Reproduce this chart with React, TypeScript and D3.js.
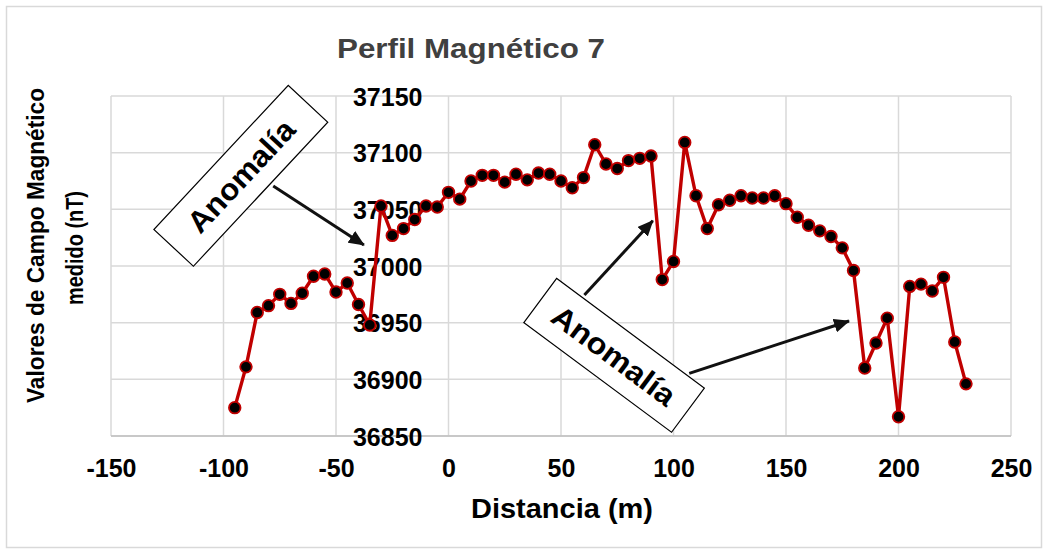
import React, { useEffect, useRef } from "react";
import * as d3 from "d3";

const distances = [
  -95, -90, -85, -80, -75, -70, -65, -60, -55, -50, -45, -40, -35, -30, -25, -20, -15, -10, -5,
  0, 5, 10, 15, 20, 25, 30, 35, 40, 45, 50, 55, 60, 65, 70, 75, 80, 85, 90, 95, 100, 105, 110,
  115, 120, 125, 130, 135, 140, 145, 150, 155, 160, 165, 170, 175, 180, 185, 190, 195, 200, 205,
  210, 215, 220, 225, 230,
];

const fieldValues = [
  36875, 36911, 36959, 36965, 36975, 36967, 36976, 36991, 36993, 36977, 36985, 36966, 36948, 37053,
  37027, 37033, 37041, 37053, 37052, 37065, 37059, 37075, 37080, 37080, 37074, 37081, 37076, 37082,
  37081, 37075, 37069, 37078, 37107, 37090, 37086, 37093, 37095, 37097, 36988, 37004, 37109, 37062,
  37033, 37054, 37058, 37062, 37060, 37060, 37062, 37055, 37043, 37036, 37031, 37026, 37016, 36996,
  36910, 36932, 36954, 36867, 36982, 36984, 36978, 36990, 36933, 36896,
];

const xTicks = [-150, -100, -50, 0, 50, 100, 150, 200, 250];
const yTicks = [36850, 36900, 36950, 37000, 37050, 37100, 37150];

// annotation boxes and arrows, in data coordinates
const labelBoxes = [
  { x: -92.3, y: 37079.6, angle: -47, w: 197, h: 54, len: 142 },
  { x: 73.6, y: 36921.2, angle: 36.6, w: 184, h: 55, len: 146 },
];
const arrows = [
  { x1: -77.9, y1: 37070.6, x2: -37.6, y2: 37018.5 },
  { x1: 60.4, y1: 36974.4, x2: 90.8, y2: 37040 },
  { x1: 107, y1: 36905.3, x2: 178, y2: 36951.5 },
];

const App = () => {
  const svgRef = useRef<SVGSVGElement | null>(null);

  useEffect(() => {
    const width = 1049;
    const height = 554;
    const plot = { left: 111, right: 1011, top: 96, bottom: 436 };
    const font = "'Liberation Sans', Arial, sans-serif";

    const svg = d3.select(svgRef.current).attr("width", width).attr("height", height);
    svg.selectAll("*").remove();

    const x = d3.scaleLinear().domain([-150, 250]).range([plot.left, plot.right]);
    const y = d3.scaleLinear().domain([36850, 37150]).range([plot.bottom, plot.top]);

    svg.append("rect").attr("width", width).attr("height", height).attr("fill", "#fff");
    svg.append("rect")
      .attr("x", 6.5).attr("y", 6.5).attr("width", 1035).attr("height", 541)
      .attr("fill", "none").attr("stroke", "#d9d9d9").attr("stroke-width", 1.5);

    // gridlines
    const grid = svg.append("g").attr("stroke", "#d9d9d9").attr("stroke-width", 1.5);
    grid.selectAll(".vg").data(xTicks).enter().append("line")
      .attr("x1", (d) => x(d)).attr("x2", (d) => x(d))
      .attr("y1", plot.top).attr("y2", plot.bottom);
    grid.selectAll(".hg").data(yTicks).enter().append("line")
      .attr("x1", plot.left).attr("x2", plot.right)
      .attr("y1", (d) => y(d)).attr("y2", (d) => y(d));
    svg.append("line")
      .attr("x1", plot.left).attr("x2", plot.right)
      .attr("y1", plot.bottom).attr("y2", plot.bottom)
      .attr("stroke", "#bfbfbf").attr("stroke-width", 1.5);

    // X axis labels
    const xAxis = svg.append("g")
      .attr("transform", `translate(0,${plot.bottom})`)
      .call(d3.axisBottom(x).tickValues(xTicks).tickSize(0).tickPadding(0).tickFormat((d) => String(d)));
    xAxis.select(".domain").remove();
    xAxis.selectAll("text")
      .attr("y", 41).attr("dy", null)
      .attr("font-family", font).attr("font-size", 25).attr("font-weight", "bold").attr("fill", "#000");

    // Y axis labels, placed at x = 0
    const yAxis = svg.append("g")
      .attr("transform", `translate(${x(0) - 26},0)`)
      .call(d3.axisLeft(y).tickValues(yTicks).tickSize(0).tickPadding(0).tickFormat((d) => String(d)));
    yAxis.select(".domain").remove();
    yAxis.selectAll("text")
      .attr("dy", "0.36em")
      .attr("font-family", font).attr("font-size", 25).attr("font-weight", "bold").attr("fill", "#000");

    // series
    const pts = distances.map((d, i) => ({ d, v: fieldValues[i] }));
    const line = d3.line<{ d: number; v: number }>().x((p) => x(p.d)).y((p) => y(p.v));
    svg.append("path").datum(pts)
      .attr("d", line).attr("fill", "none")
      .attr("stroke", "#c00000").attr("stroke-width", 3.4).attr("stroke-linejoin", "round");
    svg.selectAll(".pt").data(pts).enter().append("circle")
      .attr("cx", (p) => x(p.d)).attr("cy", (p) => y(p.v)).attr("r", 5.8)
      .attr("fill", "#000").attr("stroke", "#c00000").attr("stroke-width", 1.8);

    // arrows
    svg.append("defs").append("marker")
      .attr("id", "arrowhead").attr("markerUnits", "userSpaceOnUse")
      .attr("markerWidth", 16).attr("markerHeight", 14)
      .attr("refX", 15).attr("refY", 7).attr("orient", "auto")
      .append("path").attr("d", "M0,0 L16,7 L0,14 Z").attr("fill", "#111");
    svg.selectAll(".arrow").data(arrows).enter().append("line")
      .attr("x1", (a) => x(a.x1)).attr("y1", (a) => y(a.y1))
      .attr("x2", (a) => x(a.x2)).attr("y2", (a) => y(a.y2))
      .attr("stroke", "#111").attr("stroke-width", 3).attr("marker-end", "url(#arrowhead)");

    // annotation boxes
    const boxes = svg.selectAll(".box").data(labelBoxes).enter().append("g")
      .attr("transform", (b) => `translate(${x(b.x)},${y(b.y)}) rotate(${b.angle})`);
    boxes.append("rect")
      .attr("x", (b) => -b.w / 2).attr("y", (b) => -b.h / 2)
      .attr("width", (b) => b.w).attr("height", (b) => b.h)
      .attr("fill", "#fff").attr("stroke", "#000").attr("stroke-width", 1.2);
    boxes.append("text")
      .attr("x", (b) => -b.len / 2).attr("dy", "0.36em")
      .attr("textLength", (b) => b.len).attr("lengthAdjust", "spacingAndGlyphs")
      .attr("font-family", font).attr("font-size", 30).attr("font-weight", "bold").attr("fill", "#000")
      .text("Anomalía");

    // titles
    svg.append("text")
      .attr("x", 471 - 134).attr("y", 58)
      .attr("textLength", 268).attr("lengthAdjust", "spacingAndGlyphs")
      .attr("font-family", font).attr("font-size", 27).attr("font-weight", "bold").attr("fill", "#404040")
      .text("Perfil Magnético 7");
    svg.append("text")
      .attr("x", 562 - 91).attr("y", 518)
      .attr("textLength", 182).attr("lengthAdjust", "spacingAndGlyphs")
      .attr("font-family", font).attr("font-size", 27).attr("font-weight", "bold").attr("fill", "#000")
      .text("Distancia (m)");
    const yTitle = svg.append("text")
      .attr("transform", "translate(44,246) rotate(-90)")
      .attr("font-family", font).attr("font-size", 24).attr("font-weight", "bold").attr("fill", "#000");
    yTitle.append("tspan").attr("x", -157).attr("y", 0)
      .attr("textLength", 315).attr("lengthAdjust", "spacingAndGlyphs")
      .text("Valores de Campo Magnético");
    yTitle.append("tspan").attr("x", -59).attr("y", 39)
      .attr("textLength", 114).attr("lengthAdjust", "spacingAndGlyphs")
      .text("medido (nT)");
  }, []);

  return <svg ref={svgRef} style={{ position: "absolute", left: 0, top: 0 }}></svg>;
};

export default App;
